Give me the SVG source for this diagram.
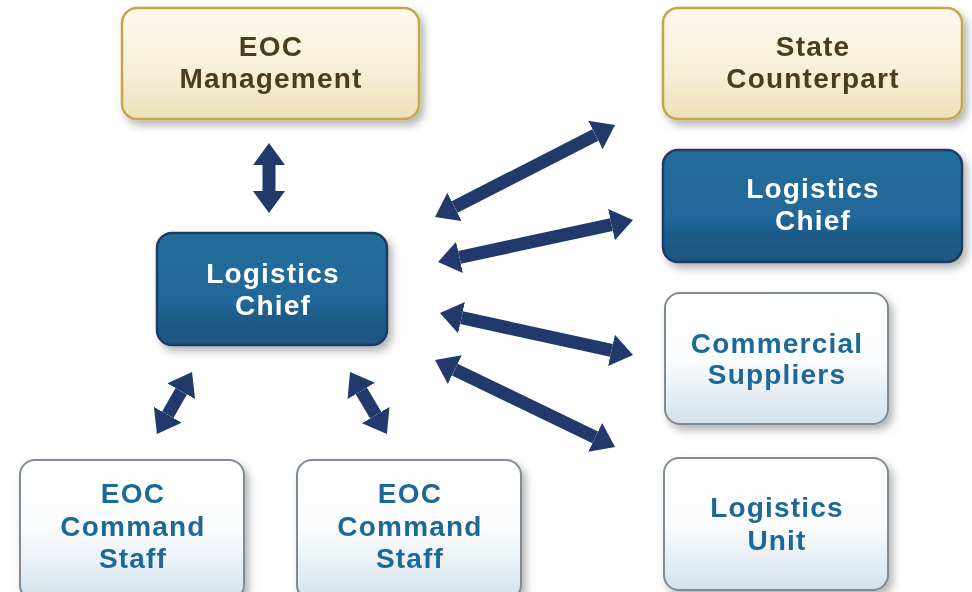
<svg xmlns="http://www.w3.org/2000/svg" width="972" height="592" viewBox="0 0 972 592">
<style>
.lbl{font-family:"Liberation Sans",Arial,sans-serif;font-weight:bold;font-size:28px;letter-spacing:1.2px;text-anchor:middle}
.tan rect{fill:url(#gTan);stroke:#c7a647;stroke-width:2.5}
.tan text{fill:#4a3d1e}
.blue rect{fill:url(#gBlue);stroke:#1d3a66;stroke-width:2.5}
.blue text{fill:#ffffff}
.white rect{fill:url(#gWhite);stroke:#7f8b95;stroke-width:2}
.white text{fill:#1f6896}
.node{filter:url(#sh)}
.arr line{stroke:#213a6b;stroke-width:13;marker-start:url(#ah);marker-end:url(#ah)}
</style>
<defs>
<linearGradient id="gTan" x1="0" y1="0" x2="0" y2="1">
<stop offset="0" stop-color="#fdf9ee"/><stop offset="0.6" stop-color="#f6eed6"/><stop offset="1" stop-color="#ede0b8"/>
</linearGradient>
<linearGradient id="gBlue" x1="0" y1="0" x2="0" y2="1">
<stop offset="0" stop-color="#246e9a"/><stop offset="0.6" stop-color="#21689a"/><stop offset="0.75" stop-color="#1c5c88"/><stop offset="1" stop-color="#1a5781"/>
</linearGradient>
<linearGradient id="gWhite" x1="0" y1="0" x2="0" y2="1">
<stop offset="0" stop-color="#ffffff"/><stop offset="0.5" stop-color="#fbfcfd"/><stop offset="1" stop-color="#d3e2ec"/>
</linearGradient>
<filter id="sh" x="-10%" y="-10%" width="130%" height="140%">
<feDropShadow dx="4" dy="5" stdDeviation="4" flood-color="#000" flood-opacity="0.3"/>
</filter>
<marker id="ah" markerUnits="userSpaceOnUse" viewBox="0 0 22 32" refX="0" refY="16" markerWidth="22" markerHeight="32" orient="auto-start-reverse">
<path d="M0,0 L22,16 L0,32 Z" fill="#213a6b"/>
</marker>
</defs>
<rect width="972" height="592" fill="#ffffff"/>

<g id="connectors" class="arr">
<line x1="269" y1="165" x2="269" y2="191"/>
<line x1="181.2" y1="391.2" x2="167.8" y2="414.8"/>
<line x1="361.3" y1="390.9" x2="375.7" y2="415.1"/>
<line x1="454.6" y1="207" x2="595.4" y2="135"/>
<line x1="459.5" y1="257.4" x2="611.5" y2="224.6"/>
<line x1="461.5" y1="317.7" x2="611.5" y2="350.3"/>
<line x1="454.8" y1="369.6" x2="595.2" y2="437.4"/>
</g>

<g id="eoc-management" class="node tan">
<rect x="122" y="8" width="297" height="111" rx="15"/>
<text class="lbl" x="271" y="56">EOC</text>
<text class="lbl" x="271" y="88">Management</text>
</g>
<g id="state-counterpart" class="node tan">
<rect x="663" y="8" width="299" height="111" rx="15"/>
<text class="lbl" x="813" y="56">State</text>
<text class="lbl" x="813" y="88">Counterpart</text>
</g>
<g id="logistics-chief-left" class="node blue">
<rect x="157" y="233" width="230" height="112" rx="15"/>
<text class="lbl" x="273" y="283">Logistics</text>
<text class="lbl" x="273" y="315">Chief</text>
</g>
<g id="logistics-chief-right" class="node blue">
<rect x="663" y="150" width="299" height="112" rx="15"/>
<text class="lbl" x="813" y="198">Logistics</text>
<text class="lbl" x="813" y="230">Chief</text>
</g>
<g id="commercial-suppliers" class="node white">
<rect x="665" y="293" width="223" height="131" rx="15"/>
<text class="lbl" x="777" y="353">Commercial</text>
<text class="lbl" x="777" y="384">Suppliers</text>
</g>
<g id="logistics-unit" class="node white">
<rect x="664" y="458" width="224" height="132" rx="15"/>
<text class="lbl" x="777" y="517">Logistics</text>
<text class="lbl" x="777" y="550">Unit</text>
</g>
<g id="eoc-command-staff-1" class="node white">
<rect x="20" y="460" width="224" height="140" rx="15"/>
<text class="lbl" x="133" y="503">EOC</text>
<text class="lbl" x="133" y="536">Command</text>
<text class="lbl" x="133" y="568">Staff</text>
</g>
<g id="eoc-command-staff-2" class="node white">
<rect x="297" y="460" width="224" height="140" rx="15"/>
<text class="lbl" x="410" y="503">EOC</text>
<text class="lbl" x="410" y="536">Command</text>
<text class="lbl" x="410" y="568">Staff</text>
</g>
</svg>
